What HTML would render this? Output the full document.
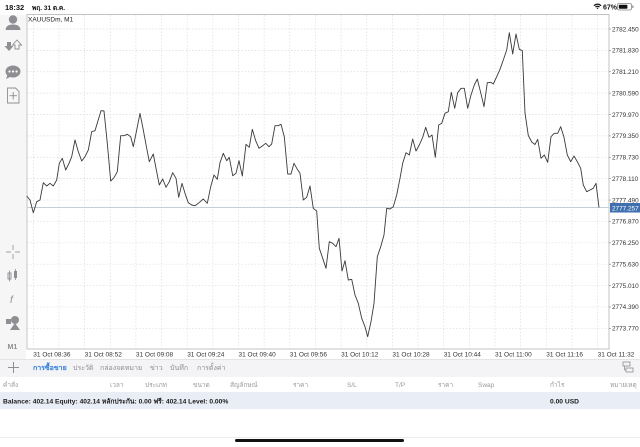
<!DOCTYPE html>
<html><head><meta charset="utf-8">
<style>
html,body{margin:0;padding:0;background:#fff;}
body{width:640px;height:447px;overflow:hidden;position:relative;font-family:"Liberation Sans","DejaVu Sans",sans-serif;}
svg{position:absolute;left:0;top:0;}
text{font-family:"Liberation Sans","DejaVu Sans",sans-serif;}
</style></head>
<body>
<svg width="640" height="447" viewBox="0 0 640 447" xmlns="http://www.w3.org/2000/svg">
<rect x="0" y="0" width="640" height="447" fill="#fff"/>
<!-- left toolbar bg -->
<rect x="0" y="15" width="26" height="344" fill="#f6f6f7"/>
<!-- tab row bg -->
<rect x="0" y="359" width="640" height="18" fill="#f4f4f6"/>
<line x1="0" y1="359.5" x2="640" y2="359.5" stroke="#e4e4e6" stroke-width="1"/>
<!-- balance row -->
<rect x="0" y="392" width="640" height="17" fill="#e9eef6"/>
<line x1="0" y1="437.5" x2="640" y2="437.5" stroke="#ececec" stroke-width="1"/>
<rect x="235" y="439" width="169" height="3" rx="1.5" fill="#111"/>

<!-- status bar -->
<text x="5" y="10" font-size="7.5" font-weight="bold" fill="#111">18:32</text>
<text x="32" y="10" font-size="6.5" font-weight="bold" fill="#111">พฤ. 31 ต.ค.</text>
<g fill="#111">
<path d="M593.5 5.2 Q597.5 1.8 601.5 5.2 L600.6 6.1 Q597.5 3.5 594.4 6.1 Z"/>
<path d="M595 6.6 Q597.5 4.7 600 6.6 L599.1 7.5 Q597.5 6.3 595.9 7.5 Z"/>
<path d="M596.5 8 L597.5 9.2 L598.5 8 Q597.5 7.3 596.5 8 Z"/>
</g>
<text x="603" y="9.5" font-size="7" font-weight="bold" fill="#111">67%</text>
<rect x="617.5" y="3.5" width="14" height="6.5" rx="1.6" fill="none" stroke="#888" stroke-width="0.8"/>
<rect x="618.8" y="4.8" width="8.6" height="3.9" rx="0.8" fill="#111"/>
<rect x="632.3" y="5.4" width="1.2" height="2.7" rx="0.5" fill="#888"/>

<!-- chart grid -->
<g stroke="#dcdcdc" stroke-width="0.7" stroke-dasharray="1.5,1.8">
<line x1="33.3" y1="15" x2="33.3" y2="349"/><line x1="58.95" y1="15" x2="58.95" y2="349"/><line x1="84.6" y1="15" x2="84.6" y2="349"/><line x1="110.25" y1="15" x2="110.25" y2="349"/><line x1="135.9" y1="15" x2="135.9" y2="349"/><line x1="161.55" y1="15" x2="161.55" y2="349"/><line x1="187.2" y1="15" x2="187.2" y2="349"/><line x1="212.85" y1="15" x2="212.85" y2="349"/><line x1="238.5" y1="15" x2="238.5" y2="349"/><line x1="264.15" y1="15" x2="264.15" y2="349"/><line x1="289.8" y1="15" x2="289.8" y2="349"/><line x1="315.45" y1="15" x2="315.45" y2="349"/><line x1="341.1" y1="15" x2="341.1" y2="349"/><line x1="366.75" y1="15" x2="366.75" y2="349"/><line x1="392.4" y1="15" x2="392.4" y2="349"/><line x1="418.05" y1="15" x2="418.05" y2="349"/><line x1="443.7" y1="15" x2="443.7" y2="349"/><line x1="469.35" y1="15" x2="469.35" y2="349"/><line x1="495" y1="15" x2="495" y2="349"/><line x1="520.65" y1="15" x2="520.65" y2="349"/><line x1="546.3" y1="15" x2="546.3" y2="349"/><line x1="571.95" y1="15" x2="571.95" y2="349"/><line x1="597.6" y1="15" x2="597.6" y2="349"/>
<line x1="27" y1="29" x2="609" y2="29"/><line x1="27" y1="50.38" x2="609" y2="50.38"/><line x1="27" y1="71.76" x2="609" y2="71.76"/><line x1="27" y1="93.14" x2="609" y2="93.14"/><line x1="27" y1="114.52" x2="609" y2="114.52"/><line x1="27" y1="135.9" x2="609" y2="135.9"/><line x1="27" y1="157.28" x2="609" y2="157.28"/><line x1="27" y1="178.66" x2="609" y2="178.66"/><line x1="27" y1="200.04" x2="609" y2="200.04"/><line x1="27" y1="221.42" x2="609" y2="221.42"/><line x1="27" y1="242.8" x2="609" y2="242.8"/><line x1="27" y1="264.18" x2="609" y2="264.18"/><line x1="27" y1="285.56" x2="609" y2="285.56"/><line x1="27" y1="306.94" x2="609" y2="306.94"/><line x1="27" y1="328.32" x2="609" y2="328.32"/>
</g>
<!-- chart border -->
<rect x="27" y="14.5" width="582" height="334.5" fill="none" stroke="#b4b4b4" stroke-width="0.8"/>

<!-- current price line -->
<line x1="27" y1="207.5" x2="609" y2="207.5" stroke="#c5cfdb" stroke-width="1"/>

<!-- price series -->
<polyline fill="none" stroke="#3a3a3a" stroke-width="0.9" stroke-linejoin="round" points="
26.7,196 30,200 33.3,212.7 36.7,201.7 40,200 43.3,182.7 46.7,186 50,183.3 53.3,186 56.7,180 59.3,163.3 62.3,158.3 65.7,170 69,163.3 71.7,156.7 75,140 78.3,151.7 81.7,161 85,156.7 88.3,150 91.7,131.7 95,130.7 97.7,121.7 101,110.7 104,111 107.3,143.3 110.7,181 114,177.7 117.3,171.7 120.7,135.7 124,135.7 127.3,134.3 130.7,136.7 133.3,146.7 136.7,130 140,113.3 143.3,130 146.7,148.3 149.3,161.7 153.3,154 156,168.3 159.3,185 162.7,179 166,187.3 169.3,181.7 172.7,172.7 176,178.3 178.7,197.3 182,183.3 185.3,194.3 188.3,202.7 191.7,205 195,205.7 198.3,203.3 203.3,199 207.3,203.3 210.7,186.7 214,175 217.3,179.3 220,162.7
223.3,153.3 226.7,160.7 229.3,157.3 232.7,175.7 236,173.3 239,160.7 242.3,176 246,144.3 249.3,147.3 252.3,129.3 255.7,140.7 259,148.3 262.3,146 265.7,143.3 269,146.7 271.7,144 275,125.7 278.3,125.7 281,124.3 284.3,136.7 287.7,174 291,174 294,163.3 297.3,169.3 300,173.3 303.3,200 306.7,197.3 310,186 313.3,208.3 316.7,211
319.3,248.3 322.7,258.3 326,268.3 329.3,241.7 332.7,243.3 336,246.7 339,238.3 342,271 345,260.7 348.3,280 351.7,279.3 355,295 358.3,303.3 361.7,318.3 365,326.7 367.7,336.7 371,321.7 374,303.3 377.3,256.7 380.7,246.7 384,235 386.7,208.3 390,209 393.3,206.7 396.7,195 400,178.3 402.7,163.3 406,152.7 409.3,155 412.7,139
416,151 419.3,145 422.7,137.3 425.7,127.3 429,137.3 432,135 435.3,157.3 438.7,125 441.7,123.3 445,113.3 448.3,111.7 451.3,92.3 454.7,108.3 457.7,92.7 461,88.3 464.3,88.3 467.7,108.3 471,95 474.3,85 477.3,79 480.7,92.7 484,106.7 487.3,82.7 490.7,82.3 493.3,84 496.7,76.7 500,69.3 503.3,60 506.7,50 509.3,32.7 512.7,54 516,34 519.3,49.3 522.3,50.7
525,113 528.3,135.5 531.7,142 535,144.5 537.7,139.3 541,158.3 544.3,155 547.7,162.3 551,136.7 554.3,133.3 557.7,133.3 560.7,126.7 564,137.3 567.3,155 570.7,161.7 574,156 577.3,161.7 580.7,168.3 583.3,185 586.7,191.7 590,190 593.3,188.3 596,183.3 599,207.5"/>

<text x="28" y="21.5" font-size="6.5" fill="#222">XAUUSDm, M1</text>

<!-- price axis labels -->
<g font-size="6.4" fill="#333">
<text x="612" y="31.3">2782.450</text>
<text x="612" y="52.7">2781.830</text>
<text x="612" y="74.1">2781.210</text>
<text x="612" y="95.4">2780.590</text>
<text x="612" y="116.8">2779.970</text>
<text x="612" y="138.2">2779.350</text>
<text x="612" y="159.6">2778.730</text>
<text x="612" y="181">2778.110</text>
<text x="612" y="202.3">2777.490</text>
<text x="612" y="223.7">2776.870</text>
<text x="612" y="245.1">2776.250</text>
<text x="612" y="266.5">2775.630</text>
<text x="612" y="287.9">2775.010</text>
<text x="612" y="309.2">2774.390</text>
<text x="612" y="330.6">2773.770</text>
</g>
<g stroke="#888" stroke-width="0.6">
<line x1="609" y1="29" x2="611" y2="29"/><line x1="609" y1="50.38" x2="611" y2="50.38"/><line x1="609" y1="71.76" x2="611" y2="71.76"/><line x1="609" y1="93.14" x2="611" y2="93.14"/><line x1="609" y1="114.52" x2="611" y2="114.52"/><line x1="609" y1="135.9" x2="611" y2="135.9"/><line x1="609" y1="157.28" x2="611" y2="157.28"/><line x1="609" y1="178.66" x2="611" y2="178.66"/><line x1="609" y1="200.04" x2="611" y2="200.04"/><line x1="609" y1="221.42" x2="611" y2="221.42"/><line x1="609" y1="242.8" x2="611" y2="242.8"/><line x1="609" y1="264.18" x2="611" y2="264.18"/><line x1="609" y1="285.56" x2="611" y2="285.56"/><line x1="609" y1="306.94" x2="611" y2="306.94"/><line x1="609" y1="328.32" x2="611" y2="328.32"/>
</g>
<rect x="610" y="203" width="30" height="9.5" fill="#3f6fae"/>
<text x="612" y="210.3" font-size="6.4" fill="#fff">2777.257</text>

<!-- time axis labels -->
<g font-size="6.5" fill="#333">
<text x="33.3" y="356.5">31 Oct 08:36</text>
<text x="84.6" y="356.5">31 Oct 08:52</text>
<text x="135.9" y="356.5">31 Oct 09:08</text>
<text x="187.2" y="356.5">31 Oct 09:24</text>
<text x="238.5" y="356.5">31 Oct 09:40</text>
<text x="289.8" y="356.5">31 Oct 09:56</text>
<text x="341.1" y="356.5">31 Oct 10:12</text>
<text x="392.4" y="356.5">31 Oct 10:28</text>
<text x="443.7" y="356.5">31 Oct 10:44</text>
<text x="495" y="356.5">31 Oct 11:00</text>
<text x="546.3" y="356.5">31 Oct 11:16</text>
<text x="597.6" y="356.5">31 Oct 11:32</text>
</g>

<!-- left toolbar icons -->
<g fill="#8e8e93">
<circle cx="13" cy="19.5" r="4.2"/>
<path d="M5.5 30 Q6 24.5 13 24.5 Q20 24.5 20.5 30 Z"/>
<path d="M7 42 L11 42 L11 46 L13.5 46 L9 51 L4.5 46 L7 46 Z"/>
<path d="M15 49 L15 45 L12.5 45 L17 40 L21.5 45 L19 45 L19 49 Z" fill="none" stroke="#8e8e93" stroke-width="0.9"/>
<ellipse cx="13" cy="71.5" rx="7.5" ry="6"/>
<path d="M7.5 75 L6 79 L11 76.5 Z"/>
<g stroke="#8e8e93" stroke-width="0.8" fill="none">
<line x1="13" y1="245" x2="13" y2="250"/><line x1="13" y1="254" x2="13" y2="259"/>
<line x1="6" y1="252" x2="11" y2="252"/><line x1="15" y1="252" x2="20" y2="252"/>
</g>
<rect x="8" y="273" width="3" height="6" fill="none" stroke="#8e8e93" stroke-width="0.9"/>
<line x1="9.5" y1="270.5" x2="9.5" y2="281.5" stroke="#8e8e93" stroke-width="0.8"/>
<rect x="14" y="271" width="3" height="7"/>
<line x1="15.5" y1="269" x2="15.5" y2="280" stroke="#8e8e93" stroke-width="0.8"/>
<rect x="6" y="319" width="5" height="5"/>
<circle cx="15" cy="320" r="4"/>
<path d="M10 330 L15 323 L20 330 Z"/>
</g>
<g fill="#fff">
<circle cx="9.5" cy="71.5" r="1.1"/><circle cx="13" cy="71.5" r="1.1"/><circle cx="16.5" cy="71.5" r="1.1"/>
</g>
<path d="M7.5 88 L15.5 88 L19 91.5 L19 103 L7.5 103 Z" fill="none" stroke="#8e8e93" stroke-width="0.9"/>
<line x1="13.2" y1="92" x2="13.2" y2="99.5" stroke="#8e8e93" stroke-width="0.9"/>
<line x1="9.5" y1="95.7" x2="17" y2="95.7" stroke="#8e8e93" stroke-width="0.9"/>
<text x="10" y="303" font-size="10" font-style="italic" font-family="Liberation Serif" fill="#8e8e93">f</text>
<text x="7.5" y="349" font-size="7" font-weight="bold" fill="#8e8e93">M1</text>

<!-- tab row -->
<g stroke="#8e8e93" stroke-width="1">
<line x1="8" y1="367.5" x2="19" y2="367.5"/><line x1="13.5" y1="362" x2="13.5" y2="373"/>
</g>
<text x="33" y="370" font-size="7" font-weight="bold" fill="#2b7bd9">การซื้อขาย</text>
<g font-size="7" fill="#8e8e93">
<text x="73" y="370">ประวัติ</text>
<text x="100" y="370">กล่องจดหมาย</text>
<text x="150" y="370">ข่าว</text>
<text x="170" y="370">บันทึก</text>
<text x="197" y="370">การตั้งค่า</text>
</g>
<g fill="none" stroke="#8e8e93" stroke-width="0.8">
<rect x="623" y="362" width="7" height="4"/>
<rect x="626" y="368" width="7" height="4"/>
<line x1="624.5" y1="366" x2="624.5" y2="370"/><line x1="624.5" y1="370" x2="626" y2="370"/>
</g>

<!-- header row -->
<g font-size="6.5" fill="#9a9a9e">
<text x="3" y="387">คำสั่ง</text>
<text x="110" y="387">เวลา</text>
<text x="145" y="387">ประเภท</text>
<text x="193" y="387">ขนาด</text>
<text x="230" y="387">สัญลักษณ์</text>
<text x="293" y="387">ราคา</text>
<text x="347" y="387">S/L</text>
<text x="395" y="387">T/P</text>
<text x="438" y="387">ราคา</text>
<text x="478" y="387">Swap</text>
<text x="550" y="387">กำไร</text>
<text x="610" y="387">หมายเหตุ</text>
</g>

<!-- balance row -->
<text x="3" y="403.5" font-size="6.7" font-weight="bold" fill="#1a1a1a">Balance: 402.14 Equity: 402.14 หลักประกัน: 0.00 ฟรี: 402.14 Level: 0.00%</text>
<text x="550" y="403.5" font-size="6.7" font-weight="bold" fill="#1a1a1a">0.00  USD</text>
</svg>
</body></html>
